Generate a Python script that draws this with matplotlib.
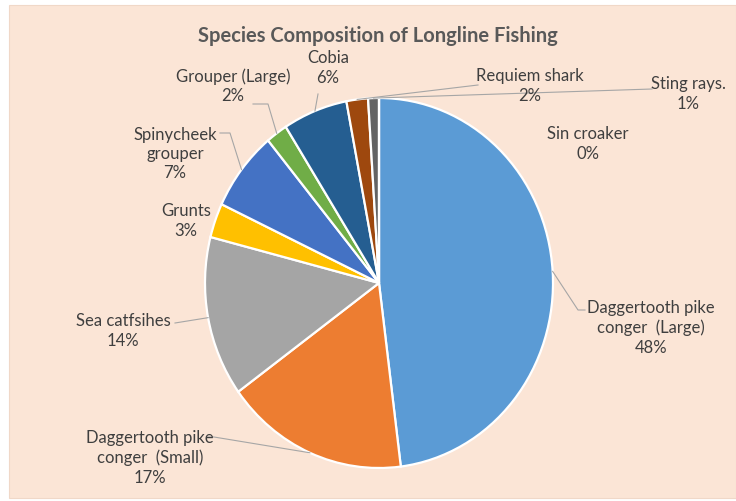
import numpy as np
import matplotlib
matplotlib.use("Agg")
import matplotlib.pyplot as plt
from matplotlib.patches import Rectangle

plt.rcParams['font.family'] = ['Lato', 'DejaVu Sans']

# Catch composition (percent of total), clockwise from 12 o'clock
species = ["Daggertooth pike\nconger  (Large)", "Daggertooth pike\nconger  (Small)",
           "Sea catfsihes", "Grunts", "Spinycheek\ngrouper", "Grouper (Large)",
           "Cobia", "Requiem shark", "Sting rays.", "Sin croaker"]
shares = [48, 17, 14, 3, 7, 2, 6, 2, 1, 0]
colors = ["#5B9BD5", "#ED7D31", "#A5A5A5", "#FFC000", "#4472C4", "#70AD47",
          "#255E91", "#9E480E", "#636363", "#997300"]

# Label block centres (pixels from top-left) and leader-line elbows
label_pos = [(651, 328), (150, 458), (123, 331), (186, 221), (175, 154),
             (233, 86), (328, 68), (530, 86), (688, 94), (588, 144)]
leader_pts = [[(578, 310), (585, 310)], [(214, 437), (207, 437)], [(175, 323)],
              None, [(230, 133), (220, 133)], [(268, 104), (253, 104)],
              [(318, 94)], [(478, 85)], [(652, 89)], None]

W, H = 736, 501
fig = plt.figure(figsize=(W / 100, H / 100), dpi=100)
fig.patch.set_facecolor("white")

# overlay in pixel coordinates
ov = fig.add_axes([0, 0, 1, 1], zorder=3)
ov.set_xlim(0, W)
ov.set_ylim(H, 0)
ov.axis("off")
ov.patch.set_alpha(0)

bg = fig.add_axes([0, 0, 1, 1], zorder=0)
bg.set_xlim(0, W)
bg.set_ylim(H, 0)
bg.axis("off")
bg.add_patch(Rectangle((9, 5), W - 9, 493, facecolor="#FBE5D6", edgecolor="#F0D8C8", lw=0.8))

# pie ellipse geometry (pixels)
cx, cy, rx, ry = 379, 283, 174, 185
pax = fig.add_axes([(cx - rx) / W, 1 - (cy + ry) / H, 2 * rx / W, 2 * ry / H], zorder=1)
wedges, _ = pax.pie(shares, colors=colors, startangle=90, counterclock=False, radius=1,
                    wedgeprops=dict(edgecolor="white", linewidth=1.6))
pax.set_aspect("auto")
pax.set_xlim(-1.0, 1.0)
pax.set_ylim(-1.0, 1.0)
pax.axis("off")

ov.text(378, 36, "Species Composition of Longline Fishing", ha="center", va="center",
        fontsize=14.5, fontweight="bold", color="#595959")

total = float(sum(shares))
cum = 0.0
for name, val, pos, pts in zip(species, shares, label_pos, leader_pts):
    mid = cum + val / 2.0
    cum += val
    ang = np.deg2rad(90 - 360 * mid / total)
    ax_x = cx + rx * np.cos(ang)
    ax_y = cy - ry * np.sin(ang)
    ov.text(pos[0], pos[1], f"{name}\n{val}%", ha="center", va="center",
            fontsize=12, color="#3F3F3F", linespacing=1.25)
    if pts:
        xs = [ax_x] + [p[0] for p in pts]
        ys = [ax_y] + [p[1] for p in pts]
        ov.plot(xs, ys, color="#A6A6A6", lw=0.8)

fig.savefig("out.png", dpi=100, facecolor=fig.get_facecolor())
